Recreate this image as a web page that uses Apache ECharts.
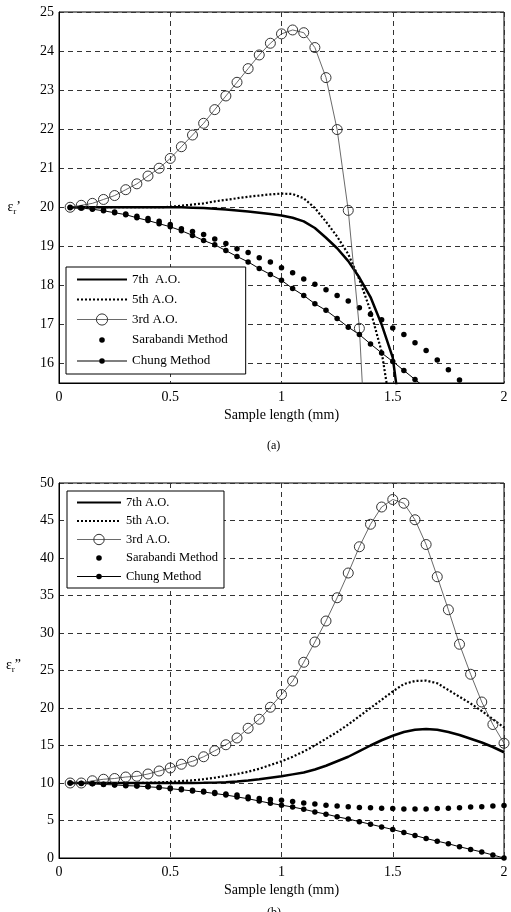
<!DOCTYPE html>
<html>
<head>
<meta charset="utf-8">
<script src="https://cdn.jsdelivr.net/npm/echarts@6/dist/echarts.min.js"></script>
<style>
html, body { margin: 0; background: #fff; }
#main { width: 511px; height: 912px; }
</style>
</head>
<body>
<div id="main"></div>
<script>
// sample lengths (mm), shared by every series
var lengths = [0.05, 0.10, 0.15, 0.20, 0.25, 0.30, 0.35, 0.40, 0.45, 0.50,
               0.55, 0.60, 0.65, 0.70, 0.75, 0.80, 0.85, 0.90, 0.95, 1.00,
               1.05, 1.10, 1.15, 1.20, 1.25, 1.30, 1.35, 1.40, 1.45, 1.50,
               1.55, 1.60, 1.65, 1.70, 1.75, 1.80, 1.85, 1.90, 1.95, 2.00];

var yTicksA = [16, 17, 18, 19, 20, 21, 22, 23, 24, 25];

// (a) real part
var a7 = [20, 20, 20, 20, 20, 20, 20, 20, 20, 20,
          20, 19.99, 19.98, 19.96, 19.94, 19.92, 19.89, 19.86, 19.83, 19.79,
          19.73, 19.64, 19.47, 19.22, 18.95, 18.62, 18.2, 17.7, 17.0, 16.15,
          14.0];
var a5 = [20, 20, 20, 20, 20, 20, 20, 20, 20, 20.01,
          20.04, 20.07, 20.1, 20.15, 20.19, 20.23, 20.27, 20.3, 20.33, 20.35,
          20.34, 20.23, 19.98, 19.63, 19.25, 18.8, 18.15, 17.35, 16.3, 14.5];
var a3 = [20.0, 20.05, 20.1, 20.2, 20.3, 20.45, 20.6, 20.8, 21.0, 21.25,
          21.55, 21.85, 22.15, 22.5, 22.85, 23.2, 23.55, 23.9, 24.2, 24.44,
          24.54, 24.47, 24.09, 23.32, 21.99, 19.92, 16.9, 11.5];
var aSarabandi = [20.0, 19.99, 19.96, 19.93, 19.88, 19.83, 19.77, 19.71, 19.64, 19.56,
          19.45, 19.38, 19.3, 19.19, 19.07, 18.94, 18.84, 18.71, 18.6, 18.45,
          18.32, 18.16, 18.03, 17.89, 17.74, 17.6, 17.43, 17.26, 17.12, 16.91,
          16.74, 16.53, 16.33, 16.09, 15.84, 15.58];
var aChung = [19.99, 19.98, 19.95, 19.91, 19.86, 19.81, 19.73, 19.66, 19.58, 19.5,
          19.4, 19.28, 19.15, 19.04, 18.89, 18.74, 18.6, 18.43, 18.28, 18.13,
          17.92, 17.74, 17.53, 17.36, 17.15, 16.93, 16.74, 16.5, 16.27, 16.05,
          15.82, 15.59, 15.36];

// (b) imaginary part
var b7 = [10, 10, 10, 10, 10, 10, 10, 10, 10, 10,
          10, 10, 10.02, 10.05, 10.1, 10.2, 10.33, 10.5, 10.7, 10.9,
          11.15, 11.4, 11.8, 12.3, 12.9, 13.5, 14.25, 15.0, 15.7, 16.3,
          16.8, 17.1, 17.2, 17.1, 16.8, 16.4, 15.9, 15.4, 14.8, 14.1];
var b5 = [10, 10, 10, 10, 10, 10, 10, 10.03, 10.08, 10.15,
          10.25, 10.35, 10.5, 10.7, 10.95, 11.2, 11.5, 11.9, 12.4, 12.9,
          13.5, 14.2, 15.0, 15.9, 16.8, 17.8, 18.9, 20.0, 21.1, 22.2,
          23.2, 23.6, 23.65, 23.3, 22.4, 21.5, 20.6, 19.6, 18.5, 17.4];
var b3 = [10.0, 10.0, 10.3, 10.5, 10.6, 10.8, 10.9, 11.2, 11.6, 12.0,
          12.5, 12.9, 13.5, 14.3, 15.1, 16.0, 17.3, 18.5, 20.1, 21.8,
          23.6, 26.1, 28.8, 31.6, 34.7, 38.0, 41.5, 44.5, 46.8, 47.8,
          47.3, 45.1, 41.8, 37.5, 33.1, 28.5, 24.5, 20.8, 17.8, 15.3];
var bSarabandi = [10, 9.97, 9.92, 9.85, 9.78, 9.7, 9.62, 9.55, 9.45, 9.32,
          9.2, 9.05, 8.9, 8.75, 8.55, 8.4, 8.15, 7.95, 7.8, 7.7,
          7.55, 7.35, 7.2, 7.05, 6.95, 6.85, 6.75, 6.7, 6.65, 6.6,
          6.55, 6.55, 6.55, 6.6, 6.65, 6.7, 6.8, 6.85, 6.95, 7.0];
var bChung = [10, 9.95, 9.9, 9.8, 9.75, 9.65, 9.6, 9.5, 9.4, 9.25,
          9.1, 8.95, 8.8, 8.6, 8.4, 8.15, 7.9, 7.6, 7.3, 7.05,
          6.8, 6.5, 6.15, 5.85, 5.5, 5.2, 4.85, 4.5, 4.15, 3.8,
          3.4, 3.0, 2.6, 2.25, 1.9, 1.5, 1.15, 0.8, 0.4, 0.0];

var font = 'Liberation Serif';

function pairs(ys) {
    return ys.map(function (y, i) { return [lengths[i], y]; });
}

function makeSeries(idx, names, d7, d5, d3, dS, dC) {
    return [
        { name: names[0], type: 'line', xAxisIndex: idx, yAxisIndex: idx, data: pairs(d7),
          symbol: 'none', clip: true, lineStyle: { color: '#000', width: 2.5 }, itemStyle: { color: '#000' } },
        { name: names[1], type: 'line', xAxisIndex: idx, yAxisIndex: idx, data: pairs(d5),
          symbol: 'none', clip: true, lineStyle: { color: '#000', width: 2.2, type: [2, 2] }, itemStyle: { color: '#000' } },
        { name: names[2], type: 'line', xAxisIndex: idx, yAxisIndex: idx, data: pairs(d3),
          symbol: 'circle', symbolSize: 10, clip: true,
          lineStyle: { color: '#444', width: 0.8 },
          itemStyle: { color: 'rgba(0,0,0,0)', borderColor: '#333', borderWidth: 1 } },
        { name: names[3], type: 'scatter', xAxisIndex: idx, yAxisIndex: idx, data: pairs(dS),
          symbolSize: 5.5, clip: true, itemStyle: { color: '#000', opacity: 1 } },
        { name: names[4], type: 'line', xAxisIndex: idx, yAxisIndex: idx, data: pairs(dC),
          symbol: 'circle', symbolSize: 5.5, clip: true,
          lineStyle: { color: '#000', width: 1 }, itemStyle: { color: '#000' } }
    ];
}

// small dot icons for the legend, drawn inside a w x h box
function dotIcon(w, h, withLine) {
    var cx = w / 2, cy = h / 2, r = 2.8;
    var p = 'path://M0,0 L0.01,0 M' + w + ',' + h + ' L' + (w - 0.01) + ',' + h + ' ';
    if (withLine) {
        p += 'M0,' + (cy - 0.5) + ' L' + (cx - r) + ',' + (cy - 0.5) + ' L' + (cx - r) + ',' + (cy + 0.5) + ' L0,' + (cy + 0.5) + ' Z ';
        p += 'M' + (cx + r) + ',' + (cy - 0.5) + ' L' + w + ',' + (cy - 0.5) + ' L' + w + ',' + (cy + 0.5) + ' L' + (cx + r) + ',' + (cy + 0.5) + ' Z ';
    }
    p += 'M' + (cx - r) + ',' + cy + ' A' + r + ',' + r + ' 0 1 1 ' + (cx + r) + ',' + cy +
         ' A' + r + ',' + r + ' 0 1 1 ' + (cx - r) + ',' + cy + ' Z';
    return p;
}

function legendData(names, w, h) {
    return [
        { name: names[0], itemStyle: { opacity: 0 } },
        { name: names[1], itemStyle: { opacity: 0 } },
        { name: names[2], itemStyle: { color: 'rgba(0,0,0,0)', borderColor: '#333', borderWidth: 1 },
          lineStyle: { color: '#444', width: 0.8 } },
        { name: names[3], icon: dotIcon(w, h, false), itemStyle: { color: '#000', borderWidth: 0 } },
        { name: names[4], icon: dotIcon(w, h, true), itemStyle: { color: '#000', borderWidth: 0 } }
    ];
}

var namesA = ['7th  A.O.', '5th A.O.', '3rd A.O.', 'Sarabandi Method', 'Chung Method'];
var namesB = ['7th A.O.', '5th A.O.', '3rd A.O.', 'Sarabandi Method', 'Chung Method'];

var splitStyle = { lineStyle: { color: '#333', width: 1, type: [5, 4] } };

function xAxisCfg(idx) {
    return {
        type: 'value', gridIndex: idx, min: 0, max: 2, interval: 0.5,
        name: 'Sample length (mm)', nameLocation: 'middle', nameGap: 25,
        nameTextStyle: { fontFamily: font, fontSize: 14, color: '#000' },
        axisLine: { lineStyle: { color: '#000', width: 1 } },
        axisTick: { show: false },
        axisLabel: { fontFamily: font, fontSize: 14, color: '#000', margin: 7 },
        splitLine: splitStyle
    };
}

var option = {
    animation: false,
    backgroundColor: '#fff',
    title: [
        { text: '(a)', left: 262, top: 435, textStyle: { fontFamily: font, fontSize: 12, fontWeight: 'normal', color: '#000' } },
        { text: '(b)', left: 262, top: 902, textStyle: { fontFamily: font, fontSize: 12, fontWeight: 'normal', color: '#000' } }
    ],
    grid: [
        { left: 59, top: 12, width: 445, height: 371, show: true, borderColor: '#000', borderWidth: 1, backgroundColor: '#fff' },
        { left: 59, top: 483, width: 445, height: 375, show: true, borderColor: '#000', borderWidth: 1, backgroundColor: '#fff' }
    ],
    legend: [
        { data: legendData(namesA, 50, 14), orient: 'vertical', left: 66, top: 267,
          itemWidth: 50, itemHeight: 14, itemGap: 7,
          padding: [6, 18, 6, 10], backgroundColor: '#fff', borderColor: '#000', borderWidth: 1,
          selectedMode: false, textStyle: { fontFamily: font, fontSize: 13, color: '#000' } },
        { data: legendData(namesB, 44, 13), orient: 'vertical', left: 67, top: 491,
          itemWidth: 44, itemHeight: 13, itemGap: 5.5,
          padding: [5, 6, 5, 9], backgroundColor: '#fff', borderColor: '#000', borderWidth: 1,
          selectedMode: false, textStyle: { fontFamily: font, fontSize: 12.5, color: '#000' } }
    ],
    xAxis: [xAxisCfg(0), xAxisCfg(1)],
    yAxis: [
        { type: 'value', gridIndex: 0, min: 15.5, max: 25,
          name: 'ε{s|r}’', nameLocation: 'middle', nameRotate: 0, nameGap: 38,
          nameTextStyle: { fontFamily: font, fontSize: 14, color: '#000', padding: [20, 0, 0, 0],
                           rich: { s: { fontFamily: font, fontSize: 9, verticalAlign: 'bottom', padding: [8, 0, 0, 0] } } },
          axisLine: { lineStyle: { color: '#000', width: 1 } },
          axisTick: { show: false, customValues: yTicksA },
          axisLabel: { fontFamily: font, fontSize: 14, color: '#000', margin: 5, customValues: yTicksA },
          splitLine: splitStyle },
        { type: 'value', gridIndex: 1, min: 0, max: 50, interval: 5,
          name: 'ε{s|r}”', nameLocation: 'middle', nameRotate: 0, nameGap: 38,
          nameTextStyle: { fontFamily: font, fontSize: 14, color: '#000', padding: [0, 0, 10, 0],
                           rich: { s: { fontFamily: font, fontSize: 9, verticalAlign: 'bottom', padding: [8, 0, 0, 0] } } },
          axisLine: { lineStyle: { color: '#000', width: 1 } },
          axisTick: { show: false },
          axisLabel: { fontFamily: font, fontSize: 14, color: '#000', margin: 5 },
          splitLine: splitStyle }
    ],
    series: makeSeries(0, namesA, a7, a5, a3, aSarabandi, aChung)
        .concat(makeSeries(1, namesB, b7, b5, b3, bSarabandi, bChung))
};

var myChart = echarts.init(document.getElementById('main'));
myChart.setOption(option);
</script>
</body>
</html>
